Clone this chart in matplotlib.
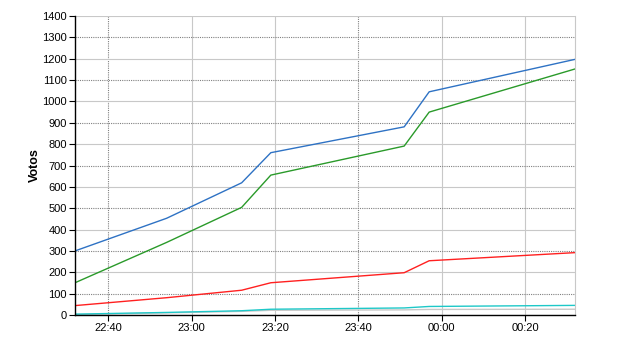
import datetime as dt
import matplotlib
matplotlib.use("Agg")
import matplotlib.pyplot as plt
import matplotlib.dates as mdates
from matplotlib.ticker import MultipleLocator

plt.rcParams['font.family'] = ['Liberation Sans', 'DejaVu Sans']

# ----------------------------------------------------------------------
# Data
# ----------------------------------------------------------------------
times = ["22:32", "22:54", "23:12", "23:19", "23:51", "23:57", "00:32"]
blue = [300, 453, 619, 760, 881, 1045, 1197]
green = [151, 340, 504, 655, 791, 950, 1152]
red = [44, 81, 116, 151, 198, 254, 292]
cyan = [4, 12, 20, 27, 33, 40, 45]
grey = [2, 10, 17, 22, 24, 26, 27]

x_ticks = ["22:40", "23:00", "23:20", "23:40", "00:00", "00:20"]
x_range = ["22:32", "00:32"]


def to_dt(s):
    h, m = map(int, s.split(":"))
    day = 1 if h < 12 else 0
    return dt.datetime(2000, 1, 1) + dt.timedelta(days=day, hours=h, minutes=m)


xs = [to_dt(t) for t in times]

fig = plt.figure(figsize=(6.4, 3.5), dpi=100)
ax = fig.add_axes([75 / 640, 35 / 350, 500 / 640, 299 / 350])

ax.plot(xs, grey, color="#c8c8c8", lw=1.0)
ax.plot(xs, cyan, color="#1ec8c8", lw=1.0)
ax.plot(xs, red, color="#ff2020", lw=1.0)
ax.plot(xs, green, color="#2a9a2a", lw=1.0)
ax.plot(xs, blue, color="#2e72c4", lw=1.0)

ax.set_xlim(to_dt(x_range[0]), to_dt(x_range[1]))
ax.set_ylim(0, 1400)
ax.yaxis.set_major_locator(MultipleLocator(100))
ax.set_xticks([to_dt(t) for t in x_ticks])
ax.xaxis.set_major_formatter(mdates.DateFormatter("%H:%M"))

ax.grid(True, zorder=0)
for i, gl in enumerate(ax.yaxis.get_gridlines()):
    if i % 2 == 0:
        gl.set(color="#808080", linestyle=(0, (1, 1)), linewidth=0.8)
    else:
        gl.set(color="#c8c8c8", linestyle="-", linewidth=0.8)
for lbl, gl in zip(x_ticks, ax.xaxis.get_gridlines()):
    if lbl.endswith(":40"):
        gl.set(color="#808080", linestyle=(0, (1, 1)), linewidth=0.8)
    else:
        gl.set(color="#c8c8c8", linestyle="-", linewidth=0.8)
ax.set_axisbelow(True)

ax.spines["top"].set_visible(False)
ax.spines["right"].set_color("#c8c8c8")
ax.spines["right"].set_linewidth(0.8)
for s in ("left", "bottom"):
    ax.spines[s].set_linewidth(1.0)
    ax.spines[s].set_color("black")

ax.tick_params(axis="both", labelsize=8, length=4, width=0.8, direction="out", pad=2)
ax.set_ylabel("Votos", fontsize=9, fontweight="bold", labelpad=1)

fig.savefig("out.png", dpi=100)
